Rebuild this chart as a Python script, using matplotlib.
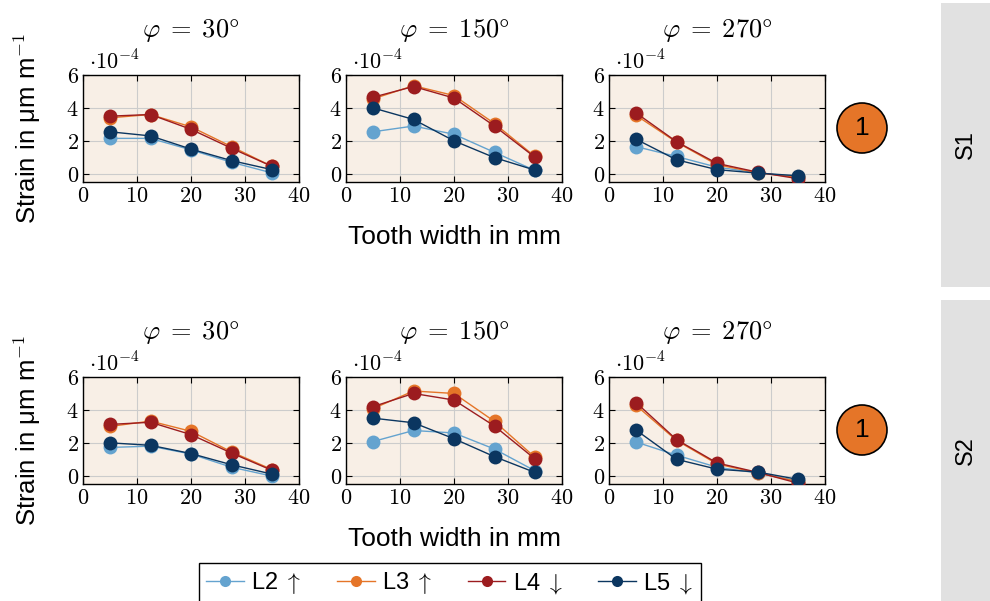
#!/usr/bin/env python3
"""Strain over tooth width for three rotation angles, two sensor sets."""

import matplotlib

matplotlib.use("Agg")
import matplotlib.pyplot as plt
import matplotlib.patches as mpatches
import matplotlib.ticker as mticker
from matplotlib.lines import Line2D

plt.rcParams.update(
    {
        "font.family": ["Liberation Sans", "DejaVu Sans"],
        "mathtext.fontset": "cm",
        "axes.linewidth": 1.0,
    }
)

# ---- data (strain in 1e-4 um/m) ----
TOOTH_WIDTH = [5, 12.5, 20, 27.5, 35]
ANGLES = [30, 150, 270]
ROWS = ["S1", "S2"]
SERIES = ["L2", "L3", "L4", "L5"]
ARROWS = [r"$\uparrow$", r"$\uparrow$", r"$\downarrow$", r"$\downarrow$"]
COLORS = ["#64a3cf", "#e57528", "#9c1c1f", "#0b3660"]

S1_30 = {
    "L2": [2.15, 2.15, 1.45, 0.7, 0.05],
    "L3": [3.4, 3.6, 2.85, 1.65, 0.45],
    "L4": [3.5, 3.6, 2.7, 1.55, 0.45],
    "L5": [2.55, 2.3, 1.5, 0.8, 0.25],
}
S1_150 = {
    "L2": [2.55, 2.9, 2.4, 1.3, 0.2],
    "L3": [4.55, 5.35, 4.75, 3.05, 1.05],
    "L4": [4.65, 5.3, 4.6, 2.9, 1.0],
    "L5": [4.0, 3.3, 2.0, 0.98, 0.22],
}
S1_270 = {
    "L2": [1.65, 1.05, 0.4, 0.06, -0.18],
    "L3": [3.55, 1.92, 0.55, 0.06, -0.22],
    "L4": [3.7, 1.95, 0.63, 0.1, -0.3],
    "L5": [2.1, 0.85, 0.25, 0.04, -0.12],
}
S2_30 = {
    "L2": [1.72, 1.8, 1.32, 0.52, -0.02],
    "L3": [3.0, 3.32, 2.7, 1.45, 0.38],
    "L4": [3.12, 3.25, 2.5, 1.38, 0.33],
    "L5": [2.0, 1.85, 1.35, 0.67, 0.1],
}
S2_150 = {
    "L2": [2.08, 2.75, 2.6, 1.62, 0.3],
    "L3": [4.08, 5.15, 5.0, 3.3, 1.12],
    "L4": [4.2, 5.0, 4.6, 3.02, 1.02],
    "L5": [3.5, 3.22, 2.25, 1.16, 0.2],
}
S2_270 = {
    "L2": [2.05, 1.25, 0.52, 0.17, -0.32],
    "L3": [4.28, 2.15, 0.72, 0.17, -0.35],
    "L4": [4.45, 2.2, 0.78, 0.21, -0.45],
    "L5": [2.78, 1.0, 0.4, 0.23, -0.22],
}
PANELS = [[S1_30, S1_150, S1_270], [S2_30, S2_150, S2_270]]

X_TICKS = [0, 10, 20, 30, 40]
Y_TICKS = [0, 2, 4, 6]

W, H = 990, 601
fig = plt.figure(figsize=(W / 100, H / 100), dpi=100)

AX_LEFT = [83, 346, 609]
AX_WIDTH = 216
ROW_TOP = [75, 377]
AX_HEIGHT = 107
AX_BG = "#f8efe6"

math_fmt = mticker.FuncFormatter(lambda v, _: f"${v:g}$")

for r, row_top in enumerate(ROW_TOP):
    for c, left in enumerate(AX_LEFT):
        ax = fig.add_axes(
            [left / W, 1 - (row_top + AX_HEIGHT) / H, AX_WIDTH / W, AX_HEIGHT / H]
        )
        ax.set_facecolor(AX_BG)
        ax.set_axisbelow(True)
        ax.grid(True, color="#cccccc", linewidth=0.8)
        data = PANELS[r][c]
        for name, color in zip(SERIES, COLORS):
            ax.plot(
                TOOTH_WIDTH,
                data[name],
                color=color,
                linewidth=1.0,
                marker="o",
                markersize=10,
                markeredgewidth=0,
                zorder=3,
            )
        ax.set_xlim(0, 40)
        ax.set_ylim(-0.5, 6)
        ax.set_xticks(X_TICKS)
        ax.set_yticks(Y_TICKS)
        ax.xaxis.set_major_formatter(math_fmt)
        ax.yaxis.set_major_formatter(math_fmt)
        ax.tick_params(labelsize=16, length=4, width=0.8, pad=3, direction="in",
                       top=True, right=True)
        ax.set_title(rf"$\varphi\;=\;{ANGLES[c]}\degree$", fontsize=19, pad=27)
        ax.text(0.03, 1.0, r"$\cdot 10^{-4}$", transform=ax.transAxes,
                ha="left", va="bottom", fontsize=16)

    y_mid = 1 - (row_top + AX_HEIGHT / 2) / H
    fig.text(27 / W, y_mid, r"Strain in μm m$^{\mathsf{-1}}$", rotation=90,
             ha="center", va="center", fontsize=18.5)
    fig.text(454 / W, 1 - (row_top + 162) / H, "Tooth width in mm",
             ha="center", va="center", fontsize=19)

    # orange marker circle
    cy = 1 - (row_top + 53) / H
    fig.patches.append(
        mpatches.Ellipse((862 / W, cy), 50 / W, 50 / H, transform=fig.transFigure,
                         facecolor="#e57528", edgecolor="black", linewidth=1.2)
    )
    fig.text(862 / W, cy, "1", ha="center", va="center", fontsize=19)

# grey side strips with row labels
for (y0, y1), label in zip([(3, 287), (300, 601)], ROWS):
    fig.patches.append(
        mpatches.Rectangle((941 / W, 1 - y1 / H), 49 / W, (y1 - y0) / H,
                           transform=fig.transFigure, facecolor="#e1e1e1",
                           edgecolor="none")
    )
    fig.text(966 / W, 1 - ((y0 + y1) / 2) / H, label, rotation=90,
             ha="center", va="center", fontsize=17)

handles = [
    Line2D([], [], color=col, linewidth=1.0, marker="o", markersize=8,
           markeredgewidth=0)
    for col in COLORS
]
labels = [f"{s} {a}" for s, a in zip(SERIES, ARROWS)]
fig.legend(
    handles,
    labels,
    loc="upper center",
    bbox_to_anchor=(450 / W, 1 - 563 / H),
    borderaxespad=0,
    ncol=4,
    fontsize=17,
    frameon=True,
    fancybox=False,
    edgecolor="black",
    framealpha=1,
    handlelength=1.6,
    handletextpad=0.3,
    columnspacing=1.5,
    borderpad=0.3,
)

fig.savefig("out.png", dpi=100)
